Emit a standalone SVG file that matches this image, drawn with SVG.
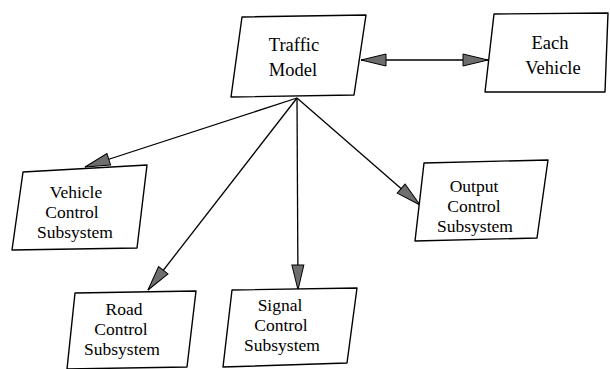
<svg xmlns="http://www.w3.org/2000/svg" width="610" height="369" viewBox="0 0 610 369">
<style>
.box{fill:#fff;stroke:#000;stroke-width:1.4;stroke-linejoin:round}
.lbl{font-family:"Liberation Serif","Times New Roman",serif;font-size:17.5px;fill:#000;text-anchor:middle}
.big{font-size:18.5px}
.edge{stroke:#000;stroke-width:1.3;fill:none}
</style>
<defs>
<marker id="ah" markerUnits="userSpaceOnUse" viewBox="0 0 27 14" refX="26" refY="7" markerWidth="27" markerHeight="14" orient="auto-start-reverse">
<path d="M1,1 L26,7 L1,13 Z" fill="#6e6e6e" stroke="#000" stroke-width="1"/>
</marker>
</defs>
<rect width="610" height="369" fill="#fff"/>
<g id="connectors">
<line class="edge" x1="361" y1="60" x2="488" y2="60" marker-start="url(#ah)" marker-end="url(#ah)"/>
<line class="edge" x1="297" y1="98" x2="85" y2="167" marker-end="url(#ah)"/>
<line class="edge" x1="297" y1="98" x2="148" y2="290" marker-end="url(#ah)"/>
<line class="edge" x1="297" y1="98" x2="298" y2="290" marker-end="url(#ah)"/>
<line class="edge" x1="297" y1="98" x2="420" y2="205" marker-end="url(#ah)"/>
</g>
<g id="traffic-model">
<polygon class="box" points="242,17 366,15 354,95 231,97"/>
<text class="lbl big" x="294" y="51">Traffic</text>
<text class="lbl big" x="293" y="76">Model</text>
</g>
<g id="each-vehicle">
<polygon class="box" points="494,14 608,13 605,92 485,92"/>
<text class="lbl big" x="550" y="49">Each</text>
<text class="lbl big" x="553" y="74">Vehicle</text>
</g>
<g id="vehicle-control">
<polygon class="box" points="23,172 147,165 137,248 12,250"/>
<text class="lbl" x="76" y="198">Vehicle</text>
<text class="lbl" x="72" y="218">Control</text>
<text class="lbl" x="75" y="238">Subsystem</text>
</g>
<g id="output-control">
<polygon class="box" points="424,163 548,160 537,238 415,241"/>
<text class="lbl" x="474" y="192">Output</text>
<text class="lbl" x="474" y="212">Control</text>
<text class="lbl" x="475" y="232">Subsystem</text>
</g>
<g id="road-control">
<polygon class="box" points="75,293 196,291 187,367 67,369"/>
<text class="lbl" x="124" y="315">Road</text>
<text class="lbl" x="121" y="335">Control</text>
<text class="lbl" x="122" y="355">Subsystem</text>
</g>
<g id="signal-control">
<polygon class="box" points="232,290 357,288 347,363 223,367"/>
<text class="lbl" x="280" y="311">Signal</text>
<text class="lbl" x="281" y="331">Control</text>
<text class="lbl" x="282" y="351">Subsystem</text>
</g>
</svg>
